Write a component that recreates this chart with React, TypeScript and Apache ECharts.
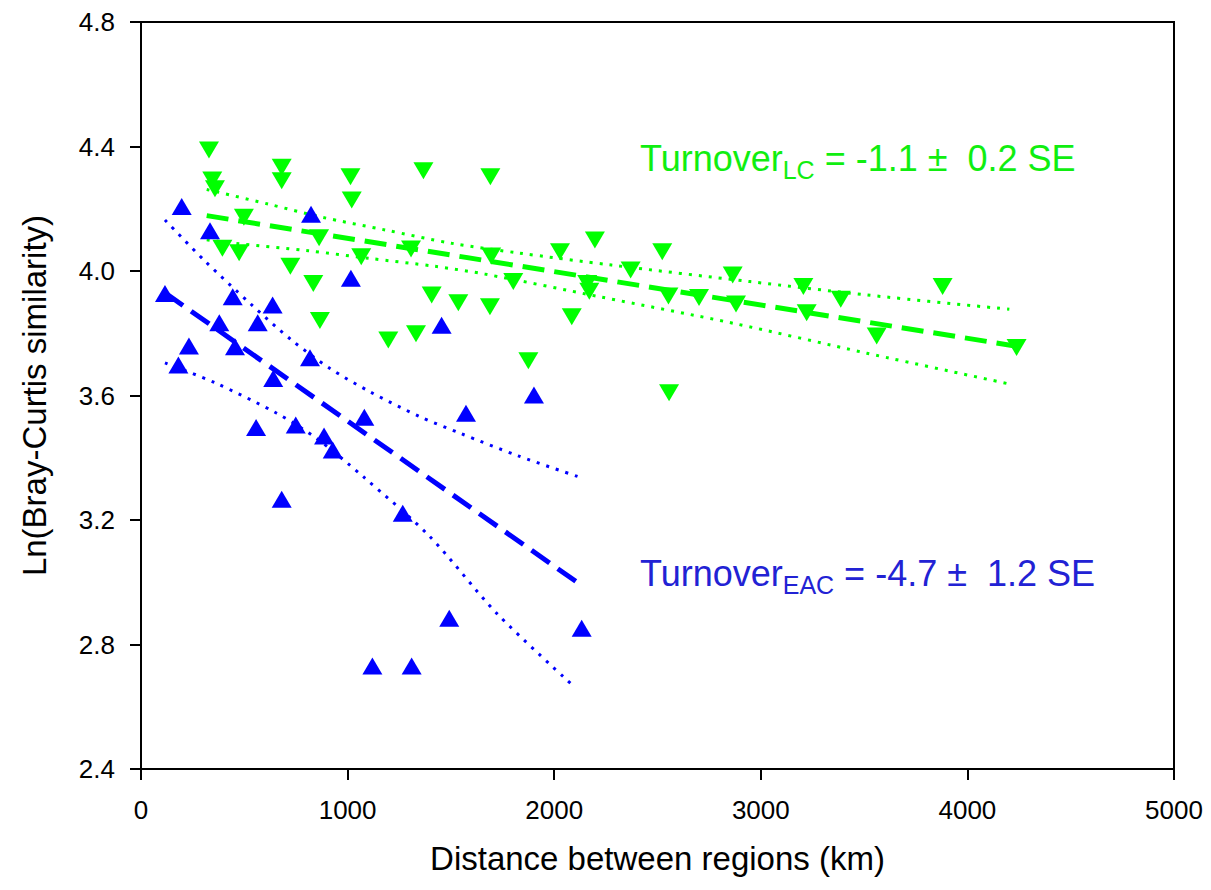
import React, { useEffect, useRef } from "react";
import * as echarts from "echarts";

// ---- Data ----
// LC region pairs (green, down triangles): [distance km, Ln(Bray-Curtis similarity)]
const lcPoints: [number, number][] = [
  [329, 4.389], [345, 4.292], [358, 4.264], [681, 4.333], [681, 4.29],
  [1014, 4.303], [1367, 4.322], [1691, 4.303], [1020, 4.228], [498, 4.173],
  [394, 4.073], [475, 4.059], [862, 4.107], [1066, 4.046], [723, 4.015],
  [834, 3.96], [1307, 4.071], [1695, 4.048], [2028, 4.062], [2197, 4.1],
  [1802, 3.966], [2160, 3.96], [2170, 3.935], [1407, 3.923], [1536, 3.898],
  [1689, 3.885], [2085, 3.853], [866, 3.841], [1197, 3.778], [1331, 3.798],
  [1875, 3.712], [2523, 4.062], [2370, 4.003], [2553, 3.92], [2701, 3.915],
  [2864, 3.987], [2880, 3.894], [3206, 3.95], [3222, 3.866], [3387, 3.909],
  [3561, 3.791], [3880, 3.95], [4238, 3.754], [2556, 3.609],
];

// EAC region pairs (blue, up triangles)
const eacPoints: [number, number][] = [
  [197, 4.207], [334, 4.129], [823, 4.182], [1016, 3.977], [116, 3.928],
  [444, 3.917], [637, 3.891], [379, 3.834], [565, 3.834], [455, 3.757],
  [232, 3.759], [1455, 3.826], [181, 3.698], [818, 3.721], [640, 3.655],
  [1902, 3.602], [1573, 3.543], [1081, 3.53], [557, 3.497], [749, 3.505],
  [886, 3.47], [928, 3.425], [681, 3.267], [1267, 3.222], [1492, 2.884],
  [2133, 2.852], [1120, 2.731], [1310, 2.731],
];

// Regression lines and 95% confidence bands
const lcFit: [number, number][] = [[318, 4.178], [4250, 3.757]];
const lcUpper: [number, number][] = [
  [318, 4.262], [616, 4.215], [875, 4.173], [1181, 4.132], [1504, 4.089],
  [1826, 4.058], [2278, 4.019], [2948, 3.966], [3513, 3.923], [4203, 3.877],
];
const lcLower: [number, number][] = [
  [318, 4.1], [455, 4.089], [810, 4.065], [1100, 4.041], [1423, 4.015],
  [1665, 3.99], [2222, 3.917], [2867, 3.832], [3513, 3.736], [4203, 3.637],
];

const eacFit: [number, number][] = [[116, 3.93], [2130, 2.991]];
const eacUpper: [number, number][] = [
  [116, 4.164], [305, 4.035], [536, 3.891], [729, 3.778], [915, 3.687],
  [1108, 3.612], [1350, 3.532], [1544, 3.479], [1826, 3.406], [2117, 3.339],
];
const eacLower: [number, number][] = [
  [116, 3.705], [358, 3.641], [657, 3.543], [850, 3.462], [1076, 3.339],
  [1399, 3.146], [1722, 2.9], [2093, 2.667],
];

const lcLabel = { name: "Turnover", sub: "LC", rest: " = -1.1 \u00b1  0.2 SE" };
const eacLabel = { name: "Turnover", sub: "EAC", rest: " = -4.7 \u00b1  1.2 SE" };

const xTitle = "Distance between regions (km)";
const yTitle = "Ln(Bray-Curtis similarity)";

const GREEN = "#00ff00";
const BLUE = "#0000ff";
const FONT = 'Arial, "Liberation Sans", Helvetica, sans-serif';

function annotation(lbl: { name: string; sub: string; rest: string }, color: string, x: number, y: number) {
  return {
    type: "text",
    x,
    y,
    z: 100,
    style: {
      text: `{a|${lbl.name}}{s|${lbl.sub}}{a|${lbl.rest}}`,
      verticalAlign: "middle",
      align: "left",
      rich: {
        a: { fontSize: 36, fontFamily: FONT, fill: color, lineHeight: 48 },
        s: { fontSize: 25, fontFamily: FONT, fill: color, lineHeight: 25, verticalAlign: "bottom" },
      },
    },
  };
}

function lineSeries(data: [number, number][], color: string, width: number, dash: number[], smooth: boolean | number) {
  return {
    type: "line",
    data,
    showSymbol: false,
    symbol: "none",
    smooth,
    silent: true,
    lineStyle: { color, width, type: dash, cap: "butt", opacity: 1 },
    z: 2,
  };
}

export default function App() {
  const ref = useRef<HTMLDivElement>(null);

  useEffect(() => {
    document.body.style.margin = "0";
    if (!ref.current) return;
    const chart = echarts.init(ref.current, undefined, { renderer: "svg" });
    chart.setOption({
      animation: false,
      backgroundColor: "#ffffff",
      textStyle: { fontFamily: FONT },
      grid: {
        left: 141,
        right: 37,
        top: 22,
        bottom: 121,
        show: true,
        borderColor: "#000",
        borderWidth: 2,
        outerBoundsMode: "none",
      },
      xAxis: {
        type: "value",
        min: 0,
        max: 5000,
        interval: 1000,
        splitLine: { show: false },
        axisLine: { lineStyle: { color: "#000", width: 2 } },
        axisTick: { show: true, inside: false, length: 11, lineStyle: { color: "#000", width: 2 } },
        axisLabel: {
          color: "#000",
          fontSize: 26,
          fontFamily: FONT,
          margin: 28,
          formatter: (v: number) => String(v),
        },
        name: xTitle,
        nameLocation: "middle",
        nameGap: 73,
        nameTextStyle: { color: "#000", fontSize: 33, fontFamily: FONT },
      },
      yAxis: {
        type: "value",
        min: 2.4,
        max: 4.8,
        interval: 0.4,
        splitLine: { show: false },
        axisLine: { show: true, lineStyle: { color: "#000", width: 2 } },
        axisTick: { show: true, inside: false, length: 11, lineStyle: { color: "#000", width: 2 } },
        axisLabel: {
          color: "#000",
          fontSize: 26,
          fontFamily: FONT,
          margin: 26,
          formatter: (v: number) => v.toFixed(1),
        },
        name: yTitle,
        nameLocation: "middle",
        nameGap: 90,
        nameRotate: 90,
        nameTextStyle: { color: "#000", fontSize: 33, fontFamily: FONT },
      },
      series: [
        lineSeries(lcUpper, GREEN, 3, [3, 7], 0.3),
        lineSeries(lcLower, GREEN, 3, [3, 7], 0.3),
        lineSeries(lcFit, GREEN, 5, [22, 10], false),
        lineSeries(eacUpper, BLUE, 3, [3, 7], 0.3),
        lineSeries(eacLower, BLUE, 3, [3, 7], 0.3),
        lineSeries(eacFit, BLUE, 5, [22, 10], false),
        {
          type: "scatter",
          data: lcPoints,
          symbol: "triangle",
          symbolRotate: 180,
          symbolSize: [20, 17],
          itemStyle: { color: GREEN, opacity: 1 },
          z: 3,
        },
        {
          type: "scatter",
          data: eacPoints,
          symbol: "triangle",
          symbolSize: [20, 17],
          itemStyle: { color: BLUE, opacity: 1 },
          z: 3,
        },
      ],
      graphic: [annotation(lcLabel, "#10ee10", 640, 158), annotation(eacLabel, "#2222d4", 640, 573)],
    });
    return () => chart.dispose();
  }, []);

  return <div ref={ref} style={{ width: 1211, height: 890 }} />;
}
